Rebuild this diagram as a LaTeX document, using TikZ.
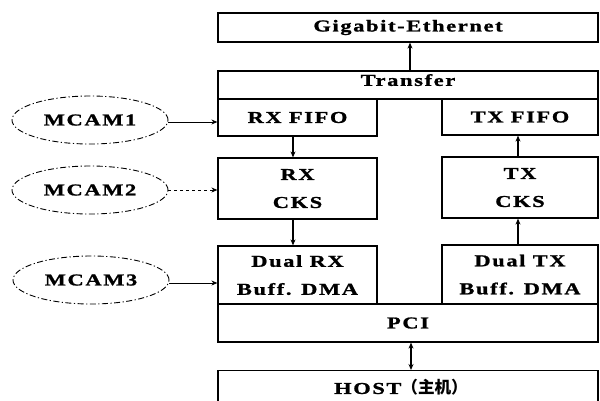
\documentclass[tikz,border=0pt]{standalone}
\usepackage{fontspec}
\setmainfont{Liberation Serif}[FakeStretch=1.35,LetterSpace=10,FakeBold=1.2]
\newfontfamily\cjk{Noto Sans CJK SC}
\usetikzlibrary{arrows.meta,shapes.geometric}
\tikzset{
  blk/.style={draw, line width=1.2pt, inner sep=0pt, align=center,
    font=\fontsize{16.6}{28}\selectfont\bfseries},
  cam/.style={draw, ellipse, line width=0.9pt,
    dash pattern=on 6pt off 2.5pt on 1.2pt off 2.5pt,
    minimum width=156pt, minimum height=48pt, inner sep=0pt,
    font=\fontsize{16.6}{20}\selectfont\bfseries},
  link/.style={line width=1.2pt, -{Stealth[length=6pt,width=5pt]}},
  feed/.style={line width=0.9pt, -{Stealth[length=6pt,width=5pt]}}
}
\begin{document}
\begin{tikzpicture}[x=1pt,y=-1pt]
\useasboundingbox (0,0) rectangle (600,400);
\clip (0,0) rectangle (600,400);
% network side
\node[blk, minimum width=380pt, minimum height=29pt] (eth) at (408,27.5) {Gigabit-Ethernet};
\node[blk, minimum width=380pt, minimum height=28pt, text depth=10pt] (tr) at (408,85) {Transfer};
\node[blk, minimum width=159pt, minimum height=37pt] (rxf) at (297.5,117.5) {RX FIFO};
\node[blk, minimum width=156pt, minimum height=36pt] (txf) at (520,117) {TX FIFO};
% checksum stage
\node[blk, minimum width=159pt, minimum height=61pt, text depth=-10pt] (rxc) at (297.5,188.5) {RX\\CKS};
\node[blk, minimum width=156pt, minimum height=61pt, text depth=-10pt] (txc) at (520,187.5) {TX\\CKS};
% DMA stage and bus
\node[blk, minimum width=159pt, minimum height=58pt, text depth=-18pt] (rxd) at (297.5,275) {Dual RX\\Buff. DMA};
\node[blk, minimum width=156pt, minimum height=59pt, text depth=-18pt] (txd) at (520,274.5) {Dual TX\\Buff. DMA};
\node[blk, minimum width=380pt, minimum height=38pt] (pci) at (408,323) {PCI};
\node[blk, minimum width=380pt, minimum height=34pt, anchor=north] (host) at (408,370) {\hspace*{-14pt}HOST{\cjk\bfseries （主机）}};
% cameras
\node[cam] (m1) at (90,120) {MCAM1};
\node[cam] (m2) at (90,190) {MCAM2};
\node[cam] (m3) at (91,280) {MCAM3};
% data flow
\draw[link] ([xshift=2pt]tr.north) -- ([xshift=2pt]eth.south);
\draw[link] ([xshift=-4.5pt]rxf.south) -- ([xshift=-4.5pt]rxc.north);
\draw[link] ([xshift=-4.5pt]rxc.south) -- ([xshift=-4.5pt]rxd.north);
\draw[link] ([xshift=-2pt]txd.north) -- ([xshift=-2pt]txc.south);
\draw[link] ([xshift=-2pt]txc.north) -- ([xshift=-2pt]txf.south);
\draw[line width=1.2pt, {Stealth[length=6pt,width=5pt]}-{Stealth[length=6pt,width=5pt]}] ([xshift=3pt]pci.south) -- ([xshift=3pt]host.north);
\draw[feed] ([yshift=-2pt]m1.east) -- ([yshift=-2pt]m1.east -| rxf.west);
\draw[feed, dashed] (m2.east) -- (m2.east -| rxc.west);
\draw[feed] ([yshift=-3pt]m3.east) -- ([yshift=-3pt]m3.east -| rxd.west);
\end{tikzpicture}
\end{document}
